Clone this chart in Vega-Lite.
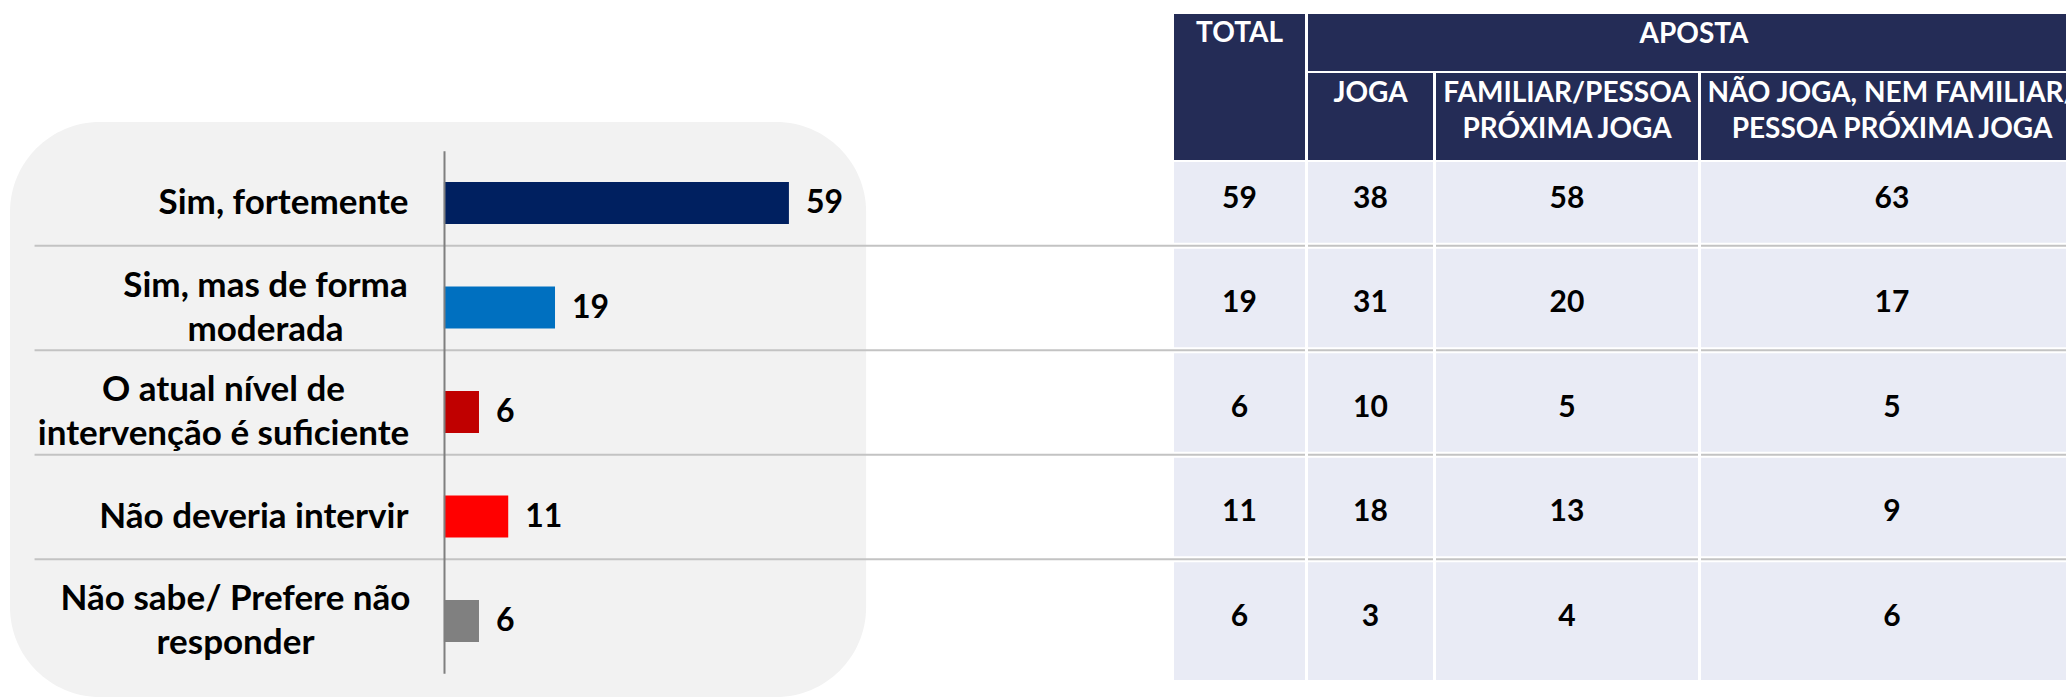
{
  "$schema": "https://vega.github.io/schema/vega-lite/v6.json",
  "padding": {"left": 10, "top": 14, "right": 0, "bottom": 0},
  "background": "white",
  "config": {"view": {"stroke": null}, "font": "Lato"},
  "datasets": {
    "linhas": [
      {"categoria": "Sim, fortemente", "total": 59, "joga": 38, "familiar": 58, "nao_joga": 63},
      {"categoria": "Sim, mas de forma\nmoderada", "total": 19, "joga": 31, "familiar": 20, "nao_joga": 17},
      {"categoria": "O atual nível de\nintervenção é suficiente", "total": 6, "joga": 10, "familiar": 5, "nao_joga": 5},
      {"categoria": "Não deveria intervir", "total": 11, "joga": 18, "familiar": 13, "nao_joga": 9},
      {"categoria": "Não sabe/ Prefere não\nresponder", "total": 6, "joga": 3, "familiar": 4, "nao_joga": 6}
    ]
  },
  "hconcat": [
    {
      "width": 1164,
      "height": 683,
      "data": {"name": "linhas"},
      "layer": [
        {
          "data": {"values": [{"painel": "fundo"}]},
          "mark": {"type": "rect", "color": "#f2f2f2", "cornerRadius": 90, "yOffset": 108, "y2Offset": 4, "clip": true},
          "encoding": {
            "x": {"datum": -74.2, "type": "quantitative", "axis": null},
            "x2": {"datum": 72.2}
          }
        },
        {
          "transform": [{"filter": "indexof(datum.categoria, 'Não sabe') < 0"}],
          "mark": {"type": "rule", "color": "#c3c3c3", "strokeWidth": 2},
          "encoding": {
            "y": {"field": "categoria", "type": "nominal", "bandPosition": 0.91},
            "x": {"datum": -70, "type": "quantitative", "axis": null},
            "x2": {"datum": 124.85}
          }
        },
        {
          "mark": {"type": "bar", "height": {"band": 0.4}},
          "encoding": {
            "y": {
              "field": "categoria",
              "type": "nominal",
              "sort": null,
              "scale": {
                "domain": ["Sim, fortemente", "Sim, mas de forma\nmoderada", "O atual nível de\nintervenção é suficiente", "Não deveria intervir", "Não sabe/ Prefere não\nresponder"],
                "range": [136.75, 659.25],
                "paddingInner": 0,
                "paddingOuter": 0
              },
              "axis": {
                "orient": "left",
                "offset": -434,
                "title": null,
                "domain": true,
                "domainColor": "#7f7f7f",
                "domainWidth": 2,
                "ticks": false,
                "grid": false,
                "labelFont": "Lato",
                "labelFontSize": 35,
                "labelFontWeight": "bold",
                "labelColor": "#000000",
                "labelLimit": 0,
                "labelLineHeight": 44,
                "labelAlign": {"condition": {"test": "indexof(datum.value, '\\n') >= 0", "value": "center"}, "value": "right"},
                "labelPadding": {
                  "condition": [
                    {"test": "indexof(datum.value, 'moderada') >= 0", "value": 179},
                    {"test": "indexof(datum.value, 'suficiente') >= 0", "value": 221},
                    {"test": "indexof(datum.value, 'responder') >= 0", "value": 209}
                  ],
                  "value": 36
                },
                "labelOffset": {"condition": {"test": "indexof(datum.value, '\\n') >= 0", "value": -22}, "value": 0},
                "labelExpr": "split(datum.label, '\\n')",
                "zindex": 2
              }
            },
            "x": {
              "field": "total",
              "type": "quantitative",
              "scale": {"domain": [-74.2, 124.85], "nice": false, "zero": false},
              "axis": null
            },
            "color": {
              "field": "categoria",
              "type": "nominal",
              "scale": {
                "domain": ["Sim, fortemente", "Sim, mas de forma\nmoderada", "O atual nível de\nintervenção é suficiente", "Não deveria intervir", "Não sabe/ Prefere não\nresponder"],
                "range": ["#002060", "#0070c0", "#c00000", "#ff0000", "#808080"]
              },
              "legend": null
            }
          }
        },
        {
          "mark": {"type": "text", "align": "left", "baseline": "middle", "dx": 17, "fontSize": 32, "fontWeight": "bold", "color": "#000000"},
          "encoding": {
            "y": {"field": "categoria", "type": "nominal"},
            "x": {"field": "total", "type": "quantitative", "axis": null},
            "text": {"field": "total", "type": "quantitative"}
          }
        }
      ]
    },
    {
      "vconcat": [
        {
          "hconcat": [
            {
              "width": 131,
              "height": 146,
              "view": {"fill": "#242c56", "stroke": null},
              "data": {"values": [{"cabecalho": "TOTAL"}]},
              "mark": {"type": "text", "color": "white", "fontSize": 28, "fontWeight": "bold", "baseline": "alphabetic", "dy": -45},
              "encoding": {"text": {"field": "cabecalho"}}
            },
            {
              "vconcat": [
                {
                  "width": 758,
                  "height": 57,
                  "view": {"fill": "#242c56", "stroke": null},
                  "data": {"values": [{"cabecalho": "APOSTA"}]},
                  "mark": {"type": "text", "color": "white", "fontSize": 28, "fontWeight": "bold", "baseline": "alphabetic", "dx": 7, "dy": 0},
                  "encoding": {"text": {"field": "cabecalho"}}
                },
                {
                  "hconcat": [
                    {
                      "width": 125,
                      "height": 87,
                      "view": {"fill": "#242c56", "stroke": null},
                      "data": {"values": [{"cabecalho": "JOGA"}]},
                      "mark": {"type": "text", "color": "white", "fontSize": 28, "fontWeight": "bold", "baseline": "alphabetic", "dy": -14.5, "lineBreak": "\n", "lineHeight": 36},
                      "encoding": {"text": {"field": "cabecalho"}}
                    },
                    {
                      "width": 262,
                      "height": 87,
                      "view": {"fill": "#242c56", "stroke": null},
                      "data": {"values": [{"cabecalho": "FAMILIAR/PESSOA\nPRÓXIMA JOGA"}]},
                      "mark": {"type": "text", "color": "white", "fontSize": 28, "fontWeight": "bold", "baseline": "alphabetic", "dy": -14.5, "lineBreak": "\n", "lineHeight": 36},
                      "encoding": {"text": {"field": "cabecalho"}}
                    },
                    {
                      "width": 365,
                      "height": 87,
                      "view": {"fill": "#242c56", "stroke": null},
                      "data": {"values": [{"cabecalho": "NÃO JOGA, NEM FAMILIAR/\nPESSOA PRÓXIMA JOGA"}]},
                      "mark": {"type": "text", "color": "white", "fontSize": 28, "fontWeight": "bold", "baseline": "alphabetic", "dx": 8.5, "dy": -14.5, "lineBreak": "\n", "lineHeight": 36, "clip": true},
                      "encoding": {"text": {"field": "cabecalho"}}
                    }
                  ],
                  "spacing": 3
                }
              ],
              "spacing": 2
            }
          ],
          "spacing": 3
        },
        {
          "hconcat": [
            {
              "width": 131,
              "height": 518,
              "view": {"fill": "#e9ebf5", "stroke": null},
              "data": {"name": "linhas"},
              "encoding": {
                "y": {
                  "field": "categoria",
                  "type": "nominal",
                  "sort": null,
                  "scale": {
                    "domain": ["Sim, fortemente", "Sim, mas de forma\nmoderada", "O atual nível de\nintervenção é suficiente", "Não deveria intervir", "Não sabe/ Prefere não\nresponder"],
                    "range": [-11.25, 511.25],
                    "paddingInner": 0,
                    "paddingOuter": 0
                  },
                  "axis": null
                }
              },
              "layer": [
                {
                  "transform": [{"filter": "indexof(datum.categoria, 'Não sabe') < 0"}],
                  "mark": {"type": "rule", "color": "white", "strokeWidth": 6},
                  "encoding": {"y": {"field": "categoria", "type": "nominal", "bandPosition": 0.91, "axis": null}}
                },
                {
                  "transform": [{"filter": "indexof(datum.categoria, 'Não sabe') < 0"}],
                  "mark": {"type": "rule", "color": "#c3c3c3", "strokeWidth": 2},
                  "encoding": {"y": {"field": "categoria", "type": "nominal", "bandPosition": 0.91, "axis": null}}
                },
                {
                  "mark": {"type": "text", "fontSize": 30, "fontWeight": "bold", "color": "#000000", "baseline": "middle"},
                  "encoding": {
                    "y": {"field": "categoria", "type": "nominal", "bandPosition": 0.46, "axis": null},
                    "text": {"field": "total", "type": "quantitative"}
                  }
                }
              ]
            },
            {
              "width": 125,
              "height": 518,
              "view": {"fill": "#e9ebf5", "stroke": null},
              "data": {"name": "linhas"},
              "encoding": {
                "y": {
                  "field": "categoria",
                  "type": "nominal",
                  "sort": null,
                  "scale": {
                    "domain": ["Sim, fortemente", "Sim, mas de forma\nmoderada", "O atual nível de\nintervenção é suficiente", "Não deveria intervir", "Não sabe/ Prefere não\nresponder"],
                    "range": [-11.25, 511.25],
                    "paddingInner": 0,
                    "paddingOuter": 0
                  },
                  "axis": null
                }
              },
              "layer": [
                {
                  "transform": [{"filter": "indexof(datum.categoria, 'Não sabe') < 0"}],
                  "mark": {"type": "rule", "color": "white", "strokeWidth": 6},
                  "encoding": {"y": {"field": "categoria", "type": "nominal", "bandPosition": 0.91, "axis": null}}
                },
                {
                  "transform": [{"filter": "indexof(datum.categoria, 'Não sabe') < 0"}],
                  "mark": {"type": "rule", "color": "#c3c3c3", "strokeWidth": 2},
                  "encoding": {"y": {"field": "categoria", "type": "nominal", "bandPosition": 0.91, "axis": null}}
                },
                {
                  "mark": {"type": "text", "fontSize": 30, "fontWeight": "bold", "color": "#000000", "baseline": "middle"},
                  "encoding": {
                    "y": {"field": "categoria", "type": "nominal", "bandPosition": 0.46, "axis": null},
                    "text": {"field": "joga", "type": "quantitative"}
                  }
                }
              ]
            },
            {
              "width": 262,
              "height": 518,
              "view": {"fill": "#e9ebf5", "stroke": null},
              "data": {"name": "linhas"},
              "encoding": {
                "y": {
                  "field": "categoria",
                  "type": "nominal",
                  "sort": null,
                  "scale": {
                    "domain": ["Sim, fortemente", "Sim, mas de forma\nmoderada", "O atual nível de\nintervenção é suficiente", "Não deveria intervir", "Não sabe/ Prefere não\nresponder"],
                    "range": [-11.25, 511.25],
                    "paddingInner": 0,
                    "paddingOuter": 0
                  },
                  "axis": null
                }
              },
              "layer": [
                {
                  "transform": [{"filter": "indexof(datum.categoria, 'Não sabe') < 0"}],
                  "mark": {"type": "rule", "color": "white", "strokeWidth": 6},
                  "encoding": {"y": {"field": "categoria", "type": "nominal", "bandPosition": 0.91, "axis": null}}
                },
                {
                  "transform": [{"filter": "indexof(datum.categoria, 'Não sabe') < 0"}],
                  "mark": {"type": "rule", "color": "#c3c3c3", "strokeWidth": 2},
                  "encoding": {"y": {"field": "categoria", "type": "nominal", "bandPosition": 0.91, "axis": null}}
                },
                {
                  "mark": {"type": "text", "fontSize": 30, "fontWeight": "bold", "color": "#000000", "baseline": "middle"},
                  "encoding": {
                    "y": {"field": "categoria", "type": "nominal", "bandPosition": 0.46, "axis": null},
                    "text": {"field": "familiar", "type": "quantitative"}
                  }
                }
              ]
            },
            {
              "width": 365,
              "height": 518,
              "view": {"fill": "#e9ebf5", "stroke": null},
              "data": {"name": "linhas"},
              "encoding": {
                "y": {
                  "field": "categoria",
                  "type": "nominal",
                  "sort": null,
                  "scale": {
                    "domain": ["Sim, fortemente", "Sim, mas de forma\nmoderada", "O atual nível de\nintervenção é suficiente", "Não deveria intervir", "Não sabe/ Prefere não\nresponder"],
                    "range": [-11.25, 511.25],
                    "paddingInner": 0,
                    "paddingOuter": 0
                  },
                  "axis": null
                }
              },
              "layer": [
                {
                  "transform": [{"filter": "indexof(datum.categoria, 'Não sabe') < 0"}],
                  "mark": {"type": "rule", "color": "white", "strokeWidth": 6},
                  "encoding": {"y": {"field": "categoria", "type": "nominal", "bandPosition": 0.91, "axis": null}}
                },
                {
                  "transform": [{"filter": "indexof(datum.categoria, 'Não sabe') < 0"}],
                  "mark": {"type": "rule", "color": "#c3c3c3", "strokeWidth": 2},
                  "encoding": {"y": {"field": "categoria", "type": "nominal", "bandPosition": 0.91, "axis": null}}
                },
                {
                  "mark": {"type": "text", "fontSize": 30, "fontWeight": "bold", "color": "#000000", "baseline": "middle", "dx": 8.5},
                  "encoding": {
                    "y": {"field": "categoria", "type": "nominal", "bandPosition": 0.46, "axis": null},
                    "text": {"field": "nao_joga", "type": "quantitative"}
                  }
                }
              ]
            }
          ],
          "spacing": 3,
          "bounds": "flush"
        }
      ],
      "spacing": 2
    }
  ],
  "spacing": 0,
  "bounds": "flush"
}
